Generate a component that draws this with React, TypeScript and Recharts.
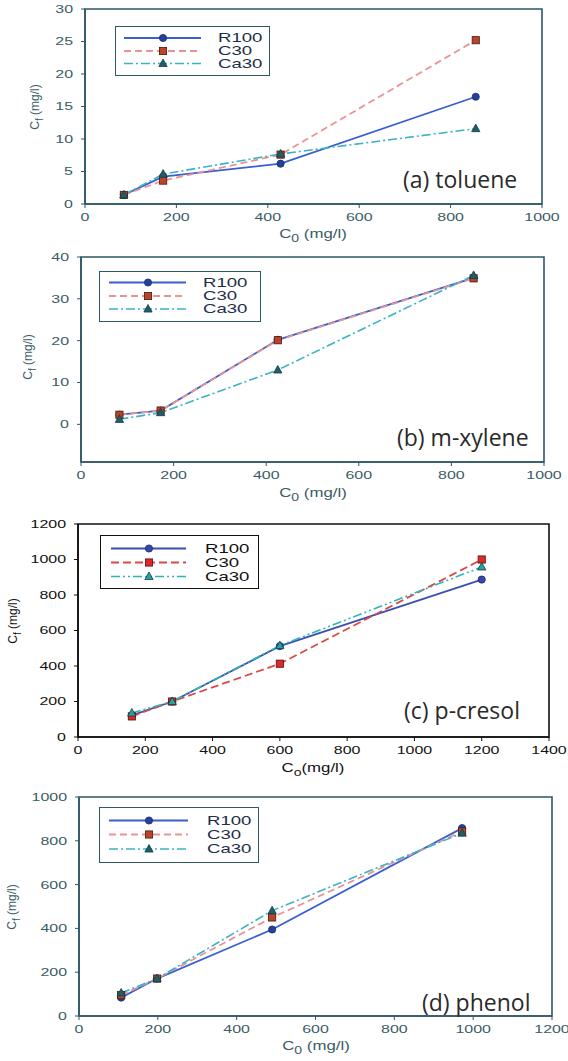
import React from 'react';
import { LineChart, Line, XAxis, YAxis, ReferenceArea, Legend } from 'recharts';

// ---------- data ----------
const tolueneC0 = [85, 171, 428, 855];
const tolueneR100 = [1.4, 4.2, 6.2, 16.5];
const tolueneC30 = [1.4, 3.6, 7.6, 25.2];
const tolueneCa30 = [1.4, 4.6, 7.7, 11.6];

const xyleneC0 = [83, 172, 425, 848];
const xyleneR100 = [2.3, 3.3, 20.2, 35.0];
const xyleneC30 = [2.3, 3.3, 20.1, 34.9];
const xyleneCa30 = [1.2, 2.8, 13.0, 35.6];

const cresolC0 = [160, 280, 600, 1200];
const cresolR100 = [122, 200, 512, 887];
const cresolC30 = [116, 200, 413, 1000];
const cresolCa30 = [135, 200, 515, 958];

const phenolC0 = [107, 198, 490, 972];
const phenolR100 = [84, 171, 395, 858];
const phenolC30 = [95, 171, 450, 843];
const phenolCa30 = [105, 171, 481, 835];

const seriesNames = ['R100', 'C30', 'Ca30'];

const xTicks1000 = [0, 200, 400, 600, 800, 1000];
const xTicks1200 = [0, 200, 400, 600, 800, 1000, 1200];
const xTicks1400 = [0, 200, 400, 600, 800, 1000, 1200, 1400];
const yTicksToluene = [0, 5, 10, 15, 20, 25, 30];
const yTicksXylene = [0, 10, 20, 30, 40];
const yTicksCresol = [0, 200, 400, 600, 800, 1000, 1200];
const yTicksPhenol = [0, 200, 400, 600, 800, 1000];

const panelLabels = ['(a) toluene', '(b) m-xylene', '(c) p-cresol', '(d) phenol'];

const buildRows = (x: number[], r: number[], c: number[], ca: number[]) =>
  x.map((v, i) => ({ c0: v, R100: r[i], C30: c[i], Ca30: ca[i] }));

// ---------- styles ----------
type Shape = 'circle' | 'square' | 'triangle';
interface SeriesStyle {
  stroke: string;
  dash?: string;
  width: number;
  shape: Shape;
  fill: string;
  mstroke: string;
}

const styleABD: SeriesStyle[] = [
  { stroke: '#3a5fd0', width: 1.8, shape: 'circle', fill: '#24409a', mstroke: '#1a2f70' },
  { stroke: '#e89494', dash: '7 4', width: 1.8, shape: 'square', fill: '#b8442a', mstroke: '#4a1a10' },
  { stroke: '#3bb3c3', dash: '9 3 2 3', width: 1.6, shape: 'triangle', fill: '#1f5f6a', mstroke: '#123c44' },
];
const styleC: SeriesStyle[] = [
  { stroke: '#3b4fb0', width: 1.8, shape: 'circle', fill: '#3848a8', mstroke: '#1a2466' },
  { stroke: '#d84a4a', dash: '8 4', width: 1.8, shape: 'square', fill: '#e02828', mstroke: '#501010' },
  { stroke: '#2eb5b5', dash: '9 3 2 3 2 3', width: 1.6, shape: 'triangle', fill: '#2aa0a0', mstroke: '#104040' },
];

const Marker = ({ shape, cx, cy, s, fill, stroke }: any) => {
  if (shape === 'circle') return <circle cx={cx} cy={cy} r={s} fill={fill} stroke={stroke} strokeWidth={0.8} />;
  if (shape === 'square')
    return <rect x={cx - s} y={cy - s} width={2 * s} height={2 * s} fill={fill} stroke={stroke} strokeWidth={0.8} />;
  return (
    <polygon
      points={`${cx},${cy - s * 1.25} ${cx - s * 1.15},${cy + s * 0.85} ${cx + s * 1.15},${cy + s * 0.85}`}
      fill={fill}
      stroke={stroke}
      strokeWidth={0.8}
    />
  );
};

const makeDot = (st: SeriesStyle) => (props: any) => {
  const { cx, cy, index } = props;
  if (cx == null || cy == null) return <g key={`n${index}`} />;
  return (
    <g key={`d${index}`}>
      <Marker shape={st.shape} cx={cx} cy={cy} s={3.6} fill={st.fill} stroke={st.mstroke} />
    </g>
  );
};

const makeTick = (color: string, sx: number, vertical: boolean) => (props: any) => {
  const { x, y, payload, textAnchor } = props;
  return (
    <g transform={`translate(${x},${y}) scale(${sx},1)`}>
      <text
        x={0}
        y={0}
        dy={vertical ? '0.355em' : '0.71em'}
        textAnchor={textAnchor}
        fill={color}
        fontSize={11}
        fontFamily="'Liberation Sans', Arial, sans-serif"
      >
        {payload.value}
      </text>
    </g>
  );
};

interface LegendSpec {
  left: number;
  top: number;
  w: number;
  h: number;
  rows: number[];
  lx1: number;
  lx2: number;
  mx: number;
  tx: number;
}

const LegendBox = ({ spec, styles, border, textColor }: any) => (
  <div
    style={{
      width: spec.w,
      height: spec.h,
      border: `1px solid ${border}`,
      background: '#fff',
      boxSizing: 'border-box',
    }}
  >
    <svg width={spec.w - 2} height={spec.h - 2} style={{ display: 'block' }}>
      {seriesNames.map((n, i) => {
        const st: SeriesStyle = styles[i];
        const y = spec.rows[i];
        return (
          <g key={n}>
            <line x1={spec.lx1} x2={spec.lx2} y1={y} y2={y} stroke={st.stroke} strokeWidth={st.width} strokeDasharray={st.dash} />
            <Marker shape={st.shape} cx={spec.mx} cy={y} s={3.6} fill={st.fill} stroke={st.mstroke} />
            <g transform={`translate(${spec.tx},${y}) scale(1.55,1)`}>
              <text x={0} y={0} dy="0.36em" fontSize={12} fontFamily="'Liberation Sans', Arial, sans-serif" fill={textColor}>
                {n}
              </text>
            </g>
          </g>
        );
      })}
    </svg>
  </div>
);

interface PanelProps {
  plot: { left: number; right: number; top: number; bottom: number };
  xDomain: number[];
  xTicks: number[];
  yDomain: number[];
  yTicks: number[];
  rows: any[];
  styles: SeriesStyle[];
  axisColor: string;
  tickColor: string;
  legendText: string;
  legend: LegendSpec;
  label: string;
  labelPos: { x: number; y: number };
  xTitle: { x: number; y: number; sub: string; space: boolean };
  yTitle: { x: number; y: number };
}

const Panel = (p: PanelProps) => {
  const chartTop = p.plot.top - 10;
  const H = p.plot.bottom - p.plot.top + 50;
  const yAxisW = 60;
  const font = "'Liberation Sans', Arial, sans-serif";
  return (
    <>
      <div style={{ position: 'absolute', left: 0, top: chartTop, width: 568, height: H }}>
        <LineChart
          width={568}
          height={H}
          data={p.rows}
          margin={{ top: 10, right: 568 - p.plot.right, bottom: 10, left: p.plot.left - yAxisW }}
        >
          <XAxis
            type="number"
            dataKey="c0"
            domain={p.xDomain}
            ticks={p.xTicks}
            interval={0}
            height={30}
            allowDataOverflow
            tickSize={4}
            tickMargin={5}
            axisLine={{ stroke: p.axisColor, strokeWidth: 1.6 }}
            tickLine={{ stroke: p.axisColor, strokeWidth: 1 }}
            tick={makeTick(p.tickColor, 1.45, false)}
          />
          <YAxis
            type="number"
            domain={p.yDomain}
            ticks={p.yTicks}
            interval={0}
            width={yAxisW}
            allowDataOverflow
            tickSize={4}
            tickMargin={8}
            axisLine={{ stroke: p.axisColor, strokeWidth: 1.6 }}
            tickLine={{ stroke: p.axisColor, strokeWidth: 1 }}
            tick={makeTick(p.tickColor, 1.45, true)}
          />
          <ReferenceArea
            x1={p.xDomain[0]}
            x2={p.xDomain[1]}
            y1={p.yDomain[0]}
            y2={p.yDomain[1]}
            fill="none"
            fillOpacity={0}
            stroke={p.axisColor}
            strokeWidth={1.6}
          />
          {seriesNames.map((n, i) => (
            <Line
              key={n}
              type="linear"
              dataKey={n}
              name={n}
              stroke={p.styles[i].stroke}
              strokeWidth={p.styles[i].width}
              strokeDasharray={p.styles[i].dash}
              dot={makeDot(p.styles[i])}
              activeDot={false}
              isAnimationActive={false}
            />
          ))}
          <Legend
            layout="vertical"
            align="center"
            verticalAlign="middle"
            wrapperStyle={{
              left: p.legend.left,
              top: p.legend.top - chartTop,
              width: p.legend.w,
              height: p.legend.h,
            }}
            content={() => (
              <LegendBox spec={p.legend} styles={p.styles} border={p.axisColor} textColor={p.legendText} />
            )}
          />
        </LineChart>
      </div>
      <div
        style={{
          position: 'absolute',
          left: p.labelPos.x,
          top: p.labelPos.y,
          transform: 'translateY(-50%)',
          fontFamily: "'Open Sans', sans-serif",
          fontSize: 23,
          color: '#2a2a2a',
          whiteSpace: 'nowrap',
          lineHeight: 1,
        }}
      >
        {p.label}
      </div>
      <div
        style={{
          position: 'absolute',
          left: p.xTitle.x,
          top: p.xTitle.y,
          transform: 'translate(-50%,-50%) scaleX(1.4)',
          fontFamily: font,
          fontSize: 12,
          color: p.tickColor,
          whiteSpace: 'nowrap',
          lineHeight: 1,
        }}
      >
        C<sub style={{ fontSize: 10 }}>{p.xTitle.sub}</sub>
        {p.xTitle.space ? ' ' : ''}(mg/l)
      </div>
      <div
        style={{
          position: 'absolute',
          left: p.yTitle.x,
          top: p.yTitle.y,
          transform: 'translate(-50%,-50%) rotate(-90deg)',
          fontFamily: font,
          fontSize: 12,
          color: p.tickColor,
          whiteSpace: 'nowrap',
          lineHeight: 1,
        }}
      >
        C<sub style={{ fontSize: 10 }}>f</sub> (mg/l)
      </div>
    </>
  );
};

const slate = '#2e5864';
const slateText = '#3a5c66';
const navyText = '#1e2e48';

export default function App() {
  return (
    <div style={{ position: 'absolute', left: 0, top: 0, width: 568, height: 1061, background: '#fff', overflow: 'hidden' }}>
      <Panel
        plot={{ left: 85, right: 542, top: 9, bottom: 204 }}
        xDomain={[0, 1000]}
        xTicks={xTicks1000}
        yDomain={[0, 30]}
        yTicks={yTicksToluene}
        rows={buildRows(tolueneC0, tolueneR100, tolueneC30, tolueneCa30)}
        styles={styleABD}
        axisColor={slate}
        tickColor={slateText}
        legendText={navyText}
        legend={{ left: 115, top: 26, w: 155, h: 50, rows: [11, 24, 36.5], lx1: 8, lx2: 85, mx: 47, tx: 102 }}
        label={panelLabels[0]}
        labelPos={{ x: 403, y: 179 }}
        xTitle={{ x: 313, y: 236, sub: '0', space: true }}
        yTitle={{ x: 37, y: 107 }}
      />
      <Panel
        plot={{ left: 81, right: 544, top: 257, bottom: 462 }}
        xDomain={[0, 1000]}
        xTicks={xTicks1000}
        yDomain={[-9, 40]}
        yTicks={yTicksXylene}
        rows={buildRows(xyleneC0, xyleneR100, xyleneC30, xyleneCa30)}
        styles={styleABD}
        axisColor={slate}
        tickColor={slateText}
        legendText={navyText}
        legend={{ left: 99, top: 271, w: 162, h: 51, rows: [10.5, 24, 37], lx1: 9, lx2: 86, mx: 48, tx: 103 }}
        label={panelLabels[1]}
        labelPos={{ x: 397, y: 437 }}
        xTitle={{ x: 313, y: 495, sub: '0', space: true }}
        yTitle={{ x: 30, y: 357 }}
      />
      <Panel
        plot={{ left: 78, right: 549, top: 524, bottom: 737 }}
        xDomain={[0, 1400]}
        xTicks={xTicks1400}
        yDomain={[0, 1200]}
        yTicks={yTicksCresol}
        rows={buildRows(cresolC0, cresolR100, cresolC30, cresolCa30)}
        styles={styleC}
        axisColor="#111111"
        tickColor="#111111"
        legendText="#111111"
        legend={{ left: 100, top: 535, w: 159, h: 54, rows: [12.5, 26.5, 40.5], lx1: 10, lx2: 85, mx: 48, tx: 104 }}
        label={panelLabels[2]}
        labelPos={{ x: 404, y: 710 }}
        xTitle={{ x: 313, y: 770, sub: 'o', space: false }}
        yTitle={{ x: 15, y: 621 }}
      />
      <Panel
        plot={{ left: 79, right: 552, top: 797, bottom: 1016 }}
        xDomain={[0, 1200]}
        xTicks={xTicks1200}
        yDomain={[0, 1000]}
        yTicks={yTicksPhenol}
        rows={buildRows(phenolC0, phenolR100, phenolC30, phenolCa30)}
        styles={styleABD}
        axisColor={slate}
        tickColor={slateText}
        legendText={navyText}
        legend={{ left: 99, top: 807, w: 160, h: 56, rows: [12.5, 26.5, 41], lx1: 9, lx2: 88, mx: 49, tx: 107 }}
        label={panelLabels[3]}
        labelPos={{ x: 422, y: 1002 }}
        xTitle={{ x: 316, y: 1048, sub: '0', space: true }}
        yTitle={{ x: 14, y: 907 }}
      />
    </div>
  );
}
